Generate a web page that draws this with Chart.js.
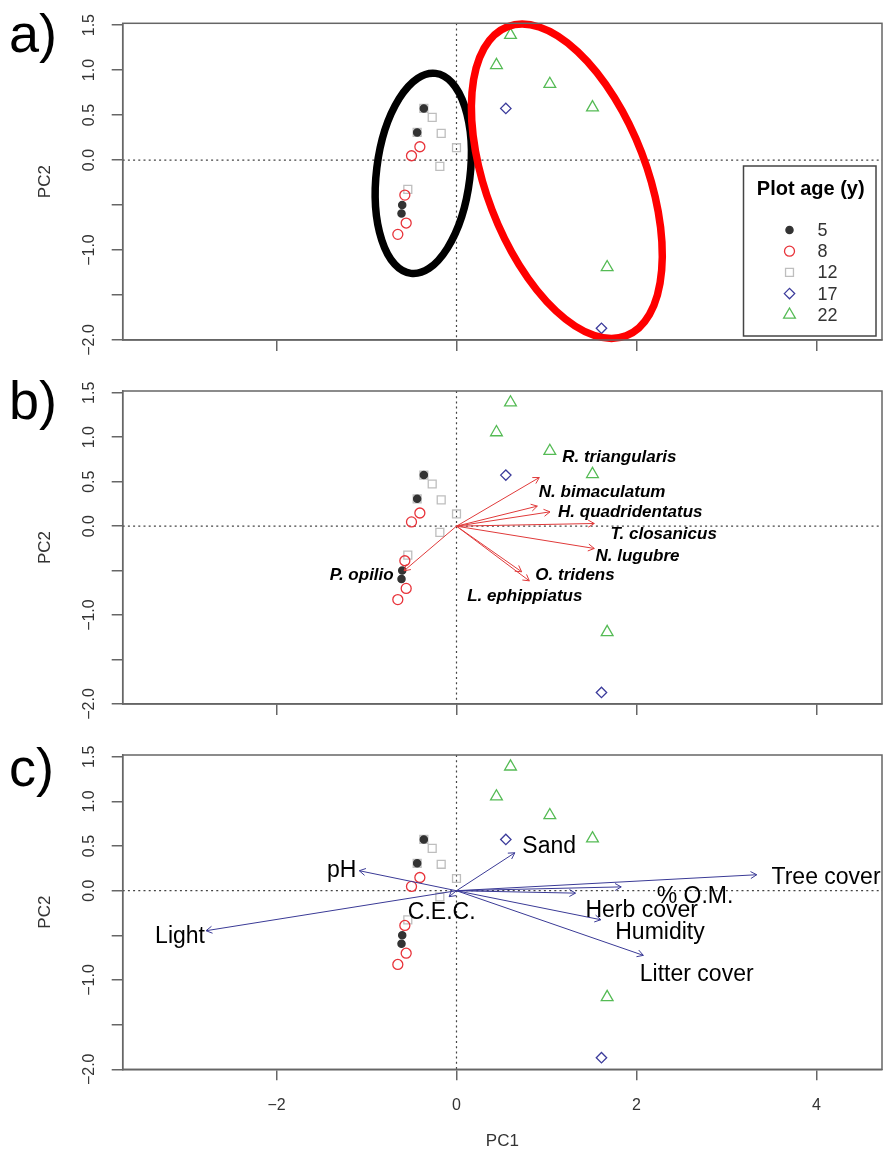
<!DOCTYPE html>
<html>
<head>
<meta charset="utf-8">
<script src="https://cdn.jsdelivr.net/npm/chart.js@4/dist/chart.umd.min.js"></script>
<style>
  body { margin: 0; background: #fff; }
  #wrap { position: relative; width: 885px; height: 1153px; }
  canvas { position: absolute; left: 0; }
</style>
</head>
<body>
<div id="wrap">
  <canvas id="pa" width="885" height="365" style="top:0px"></canvas>
  <canvas id="pb" width="885" height="370" style="top:365px"></canvas>
  <canvas id="pc" width="885" height="418" style="top:735px"></canvas>
</div>
<script>
// PCA scores of the plots, one pair of arrays per plot age
const ageGroups = ['5', '8', '12', '17', '22'];
const pc1Age5 = [-0.363, -0.437, -0.603, -0.611];
const pc2Age5 = [0.574, 0.307, -0.500, -0.593];
const pc1Age8 = [-0.407, -0.500, -0.574, -0.559, -0.652];
const pc2Age8 = [0.148, 0.048, -0.389, -0.700, -0.826];
const pc1Age12 = [-0.363, -0.437, -0.270, -0.170, 0.000, -0.185, -0.541];
const pc2Age12 = [0.574, 0.307, 0.474, 0.296, 0.137, -0.070, -0.326];
const pc1Age17 = [0.548, 1.611];
const pc2Age17 = [0.574, -1.870];
const pc1Age22 = [0.600, 0.444, 1.037, 1.511, 1.674];
const pc2Age22 = [1.390, 1.055, 0.845, 0.585, -1.192];

// species loadings (panel b)
const speciesNames = ['R. triangularis', 'N. bimaculatum', 'H. quadridentatus', 'T. closanicus',
  'N. lugubre', 'O. tridens', 'L. ephippiatus', 'P. opilio'];
const speciesPC1 = [0.920, 0.898, 1.039, 1.531, 1.531, 0.809, 0.724, -0.583];
const speciesPC2 = [0.547, 0.225, 0.161, 0.030, -0.251, -0.615, -0.513, -0.502];
const speciesLabelPC1 = [1.810, 1.618, 1.931, 2.302, 2.011, 1.317, 0.759, -1.053];
const speciesLabelPC2 = [0.779, 0.379, 0.154, -0.093, -0.337, -0.558, -0.794, -0.551];

// environmental variables (panel c)
const envNames = ['Light', 'pH', 'C.E.C.', 'Sand', 'Tree cover', '% O.M.', 'Herb cover', 'Humidity', 'Litter cover'];
const envPC1 = [-2.783, -1.080, -0.082, 0.648, 3.336, 1.830, 1.322, 1.604, 2.076];
const envPC2 = [-0.448, 0.224, -0.067, 0.425, 0.179, 0.043, -0.027, -0.325, -0.724];
const envLabelPC1 = [-3.072, -1.276, -0.164, 1.030, 4.106, 2.650, 2.058, 2.261, 2.669];
const envLabelPC2 = [-0.512, 0.227, -0.250, 0.496, 0.142, -0.064, -0.221, -0.474, -0.941];

// group ellipses (panel a), in PC units
const ellipseCenterPC1 = [-0.369, 1.226];
const ellipseCenterPC2 = [-0.148, -0.236];
const ellipseMajor = [1.12, 1.84];
const ellipseMinor = [0.52, 0.89];
const ellipseTiltDeg = [7, -21];

// axis ticks
const xTickValues = [-2, 0, 2, 4];
const yTickValues = [-2, -1.5, -1, -0.5, 0, 0.5, 1, 1.5];
const yTickLabelValues = [1.5, 1, 0.5, 0, -1, -2];

const agePC1 = [pc1Age5, pc1Age8, pc1Age12, pc1Age17, pc1Age22];
const agePC2 = [pc2Age5, pc2Age8, pc2Age12, pc2Age17, pc2Age22];

const FONT = '"Liberation Sans", Arial, Helvetica, sans-serif';
const ageStyles = [
  { pointStyle: 'circle', radius: 3.6, fill: '#333333', stroke: '#333333' },
  { pointStyle: 'circle', radius: 5, fill: 'rgba(0,0,0,0)', stroke: '#e8333a' },
  { pointStyle: 'rect', radius: 5.6, fill: 'rgba(0,0,0,0)', stroke: '#bebebe' },
  { pointStyle: 'rectRot', radius: 5.2, fill: 'rgba(0,0,0,0)', stroke: '#3b3b9b' },
  { pointStyle: 'triangle', radius: 6.8, fill: 'rgba(0,0,0,0)', stroke: '#55bb55' }
];
const ellipseColors = ['#000000', '#ff0000'];

const minus = s => s.replace('-', '\u2212');

function ageDatasets() {
  return ageGroups.map((age, i) => ({
    label: age,
    data: agePC1[i].map((v, j) => ({ x: v, y: agePC2[i][j] })),
    pointStyle: ageStyles[i].pointStyle,
    pointRadius: ageStyles[i].radius,
    pointBackgroundColor: ageStyles[i].fill,
    pointBorderColor: ageStyles[i].stroke,
    pointBorderWidth: 1.3
  }));
}

function drawArrow(ctx, x0, y0, x1, y1, color) {
  const ang = Math.atan2(y1 - y0, x1 - x0);
  const len = 7, spread = Math.PI / 6;
  ctx.strokeStyle = color;
  ctx.lineWidth = 1;
  ctx.beginPath();
  ctx.moveTo(x0, y0);
  ctx.lineTo(x1, y1);
  ctx.moveTo(x1 - len * Math.cos(ang - spread), y1 - len * Math.sin(ang - spread));
  ctx.lineTo(x1, y1);
  ctx.lineTo(x1 - len * Math.cos(ang + spread), y1 - len * Math.sin(ang + spread));
  ctx.stroke();
}

function drawEllipses(chart) {
  const { ctx, scales: { x, y } } = chart;
  const ux = Math.abs(x.getPixelForValue(1) - x.getPixelForValue(0));
  const uy = Math.abs(y.getPixelForValue(1) - y.getPixelForValue(0));
  ctx.save();
  ctx.lineWidth = 7.5;
  ellipseCenterPC1.forEach((cx, i) => {
    ctx.strokeStyle = ellipseColors[i];
    ctx.beginPath();
    ctx.ellipse(x.getPixelForValue(cx), y.getPixelForValue(ellipseCenterPC2[i]),
      ellipseMinor[i] * ux, ellipseMajor[i] * uy, ellipseTiltDeg[i] * Math.PI / 180, 0, 2 * Math.PI);
    ctx.stroke();
  });
  ctx.restore();
}

function drawLegend(chart) {
  const { ctx } = chart;
  const bx = 743.5, by = 166, bw = 132.5, bh = 170;
  ctx.save();
  ctx.fillStyle = '#fff';
  ctx.fillRect(bx, by, bw, bh);
  ctx.strokeStyle = '#444';
  ctx.lineWidth = 1.5;
  ctx.strokeRect(bx, by, bw, bh);
  ctx.fillStyle = '#000';
  ctx.font = 'bold 20px ' + FONT;
  ctx.textAlign = 'center';
  ctx.textBaseline = 'middle';
  ctx.fillText('Plot age (y)', bx + bw / 2 + 1, by + 23);
  ctx.font = '18px ' + FONT;
  ctx.textAlign = 'left';
  ageGroups.forEach((age, i) => {
    const yy = by + 64 + i * 21.2;
    const st = ageStyles[i];
    ctx.fillStyle = st.fill;
    ctx.strokeStyle = st.stroke;
    ctx.lineWidth = 1.3;
    Chart.helpers.drawPoint(ctx, { pointStyle: st.pointStyle, radius: st.radius, rotation: 0, borderWidth: 1.3 }, bx + 46, yy);
    ctx.fillStyle = '#333';
    ctx.fillText(age, bx + 74, yy + 1);
  });
  ctx.restore();
}

function drawSpecies(chart) {
  const { ctx, scales: { x, y } } = chart;
  const ox = x.getPixelForValue(0), oy = y.getPixelForValue(0);
  ctx.save();
  speciesNames.forEach((n, i) => {
    drawArrow(ctx, ox, oy, x.getPixelForValue(speciesPC1[i]), y.getPixelForValue(speciesPC2[i]), '#e03a3a');
  });
  ctx.fillStyle = '#000';
  ctx.font = 'italic bold 17px ' + FONT;
  ctx.textAlign = 'center';
  ctx.textBaseline = 'middle';
  speciesNames.forEach((n, i) => {
    ctx.fillText(n, x.getPixelForValue(speciesLabelPC1[i]), y.getPixelForValue(speciesLabelPC2[i]));
  });
  ctx.restore();
}

function drawEnv(chart) {
  const { ctx, scales: { x, y } } = chart;
  const ox = x.getPixelForValue(0), oy = y.getPixelForValue(0);
  ctx.save();
  envNames.forEach((n, i) => {
    drawArrow(ctx, ox, oy, x.getPixelForValue(envPC1[i]), y.getPixelForValue(envPC2[i]), '#3a3a96');
  });
  ctx.fillStyle = '#000';
  ctx.font = '23px ' + FONT;
  ctx.textAlign = 'center';
  ctx.textBaseline = 'middle';
  envNames.forEach((n, i) => {
    ctx.fillText(n, x.getPixelForValue(envLabelPC1[i]), y.getPixelForValue(envLabelPC2[i]));
  });
  ctx.restore();
}

function makePanel(id, p) {
  const canvas = document.getElementById(id);
  const overlay = {
    id: 'overlay',
    beforeDatasetsDraw(chart) {
      const { ctx, chartArea: a, scales: { x, y } } = chart;
      ctx.save();
      ctx.strokeStyle = '#444';
      ctx.lineWidth = 1.2;
      ctx.setLineDash([2, 3.2]);
      ctx.beginPath();
      ctx.moveTo(a.left, y.getPixelForValue(0));
      ctx.lineTo(a.right, y.getPixelForValue(0));
      ctx.moveTo(x.getPixelForValue(0), a.top);
      ctx.lineTo(x.getPixelForValue(0), a.bottom);
      ctx.stroke();
      ctx.restore();
    },
    afterDatasetsDraw(chart) {
      if (p.extras) p.extras(chart);
    },
    afterDraw(chart) {
      const { ctx, chartArea: a, scales: { y } } = chart;
      ctx.save();
      ctx.strokeStyle = '#666';
      ctx.lineWidth = 1.5;
      ctx.strokeRect(a.left, a.top, a.right - a.left, a.bottom - a.top);
      // rotated y tick labels, as R draws them
      ctx.fillStyle = '#333';
      ctx.font = '16px ' + FONT;
      ctx.textAlign = 'center';
      ctx.textBaseline = 'middle';
      yTickLabelValues.forEach(v => {
        ctx.save();
        ctx.translate(90, y.getPixelForValue(v));
        ctx.rotate(-Math.PI / 2);
        ctx.fillText(minus(v.toFixed(1)), 0, 0);
        ctx.restore();
      });
      ctx.fillStyle = '#000';
      ctx.font = '54px ' + FONT;
      ctx.textAlign = 'left';
      ctx.textBaseline = 'alphabetic';
      ctx.fillText(p.letter, 9, p.letterBase);
      ctx.restore();
      if (p.legend) drawLegend(chart);
    }
  };

  return new Chart(canvas, {
    type: 'scatter',
    data: { datasets: ageDatasets() },
    options: {
      responsive: false,
      animation: false,
      events: [],
      layout: { autoPadding: false, padding: { left: 0, right: 3, top: p.top, bottom: 0 } },
      plugins: { legend: { display: false }, tooltip: { enabled: false } },
      scales: {
        x: {
          type: 'linear',
          min: -3.709,
          max: 4.728,
          afterBuildTicks: s => { s.ticks = xTickValues.map(v => ({ value: v })); },
          afterFit: s => { s.height = canvas.height - p.bottom; },
          grid: { drawOnChartArea: false, drawTicks: true, tickLength: 11, color: '#666', lineWidth: 1.5 },
          border: { display: true, color: '#666', width: 1.5 },
          ticks: {
            display: p.xLabels,
            autoSkip: false,
            maxRotation: 0,
            padding: 16,
            color: '#333',
            font: { family: FONT, size: 16 },
            callback: v => minus(String(v))
          },
          title: {
            display: p.xLabels,
            text: 'PC1',
            color: '#333',
            font: { family: FONT, size: 17 },
            padding: { top: 0, bottom: 1 }
          }
        },
        y: {
          type: 'linear',
          min: -2.0,
          max: 1.52,
          afterBuildTicks: s => { s.ticks = yTickValues.map(v => ({ value: v })); },
          afterFit: s => { s.width = 122.7; },
          grid: { drawOnChartArea: false, drawTicks: true, tickLength: 11, color: '#666', lineWidth: 1.5 },
          border: { display: true, color: '#666', width: 1.5 },
          ticks: { display: false },
          title: {
            display: true,
            text: 'PC2',
            color: '#333',
            font: { family: FONT, size: 17 },
            padding: { top: 35.4, bottom: 0 }
          }
        }
      }
    },
    plugins: [overlay]
  });
}

makePanel('pa', { top: 23.3, bottom: 340, letter: 'a)', letterBase: 52, xLabels: false, legend: true, extras: drawEllipses });
makePanel('pb', { top: 26, bottom: 339, letter: 'b)', letterBase: 419 - 365, xLabels: false, legend: false, extras: drawSpecies });
makePanel('pc', { top: 20, bottom: 334.3, letter: 'c)', letterBase: 786 - 735, xLabels: true, legend: false, extras: drawEnv });
</script>
</body>
</html>
